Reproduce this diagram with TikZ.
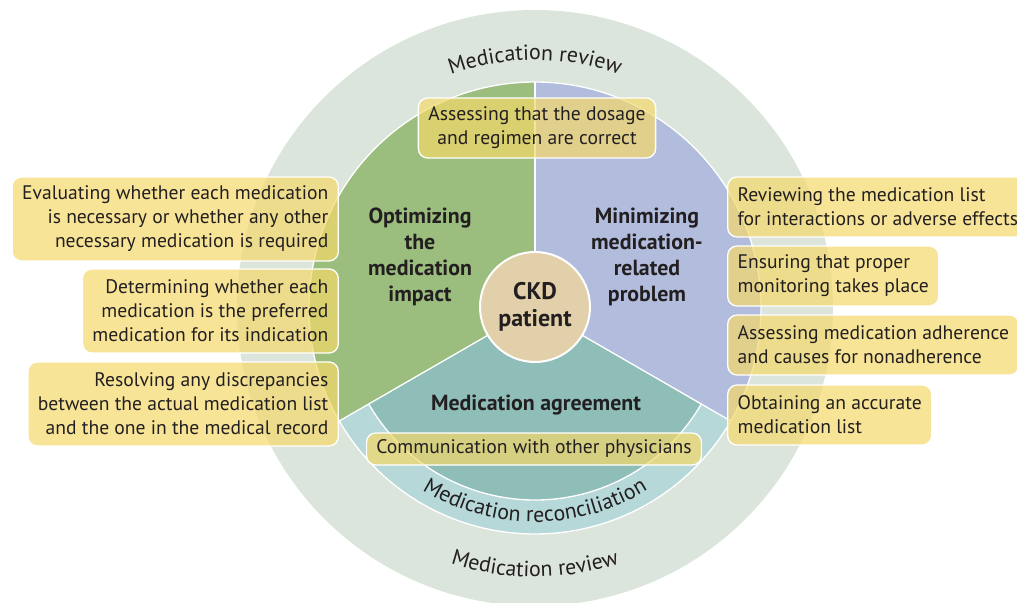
\documentclass[tikz,border=0pt]{standalone}
\usepackage{fontspec}
\setmainfont{PT Sans}
\usetikzlibrary{decorations.text}

\definecolor{reviewc}{HTML}{DCE5DC}
\definecolor{greenc}{HTML}{9BBD7E}
\definecolor{bluec}{HTML}{B2BDDE}
\definecolor{reconc}{HTML}{B6D8D8}
\definecolor{agreec}{HTML}{8FBEB9}
\definecolor{ckdc}{HTML}{E2D0AA}
\definecolor{boxc}{HTML}{F4D96A}
\definecolor{inkc}{HTML}{231F20}

\newcommand{\ringfont}{\fontsize{16.4}{18}\selectfont}

\begin{document}
\begin{tikzpicture}[x=0.75pt, y=0.75pt,
		edge/.style={draw=white, line width=1},
		infobox/.style={fill=boxc, fill opacity=0.7, text opacity=1, draw=white, line width=1,
			rounded corners=7, inner xsep=7.5, inner ysep=0, text=inkc,
			font=\fontsize{14.7}{18}\selectfont},
		leftbox/.style={infobox, align=right, anchor=east, minimum height=63},
		rightbox/.style={infobox, align=left, anchor=west, minimum height=45},
		sector/.style={align=center, text=inkc, font=\bfseries\fontsize{16.4}{19.5}\selectfont}]
		\useasboundingbox (-535,-295) rectangle (482,308);

		% Medication review ring
		\fill[reviewc] (0,0) circle[radius=298];

		% Three sectors
		\fill[greenc] (0,0) -- (90:226) arc[start angle=90, end angle=210, radius=226] -- cycle;
		\fill[bluec] (0,0) -- (-30:226) arc[start angle=-30, end angle=90, radius=226] -- cycle;
		\fill[reconc] (0,0) -- (210:226) arc[start angle=210, end angle=330, radius=226] -- cycle;
		\fill[agreec] (0,0) -- (210:192) arc[start angle=210, end angle=330, radius=192] -- cycle;

		\draw[edge] (0,0) circle[radius=226];
		\draw[edge] (210:192) arc[start angle=210, end angle=330, radius=192];
		\draw[edge] (0,0) -- (90:226);
		\draw[edge] (0,0) -- (210:226);
		\draw[edge] (0,0) -- (330:226);

		% Ring labels
		\path[decorate, decoration={text along path, text align=center,
			text={|\ringfont\color{inkc}|Medication review}}]
			(120:248) arc[start angle=120, end angle=60, radius=248];
		\path[decorate, decoration={text along path, text align=center,
			text={|\ringfont\color{inkc}|Medication review}}]
			(-130:269) arc[start angle=-130, end angle=-50, radius=269];
		\path[decorate, decoration={text along path, text align=center,
			text={|\ringfont\color{inkc}|Medication reconciliation}}]
			(-125:214) arc[start angle=-125, end angle=-55, radius=214];

		% Centre and sector titles
		\node[circle, fill=ckdc, draw=white, line width=1.5, minimum size=82.5, align=center,
			text=inkc, font=\bfseries\fontsize{18}{20}\selectfont] (ckd) at (0,1) {CKD\\patient};
		\node[sector] (optimizing) at (-115,51) {Optimizing\\the\\medication\\impact};
		\node[sector] (minimizing) at (112,51) {Minimizing\\medication-\\related\\problem};
		\node[sector] (agreement) at (1,-97) {Medication agreement};

		% Left boxes
		\node[leftbox] (evaluating) at (-196,89) {Evaluating whether each medication\\is necessary or whether any other\\necessary medication is required};
		\node[leftbox] (determining) at (-196,-3) {Determining whether each\\medication is the preferred\\medication for its indication};
		\node[leftbox] (resolving) at (-196,-96) {Resolving any discrepancies\\between the actual medication list\\and the one in the medical record};

		% Right boxes
		\node[rightbox] (reviewing) at (192,101) {Reviewing the medication list\\for interactions or adverse effects};
		\node[rightbox] (ensuring) at (192,32) {Ensuring that proper\\monitoring takes place};
		\node[rightbox] (adherence) at (192,-37) {Assessing medication adherence\\and causes for nonadherence};
		\node[rightbox] (obtaining) at (192,-107) {Obtaining an accurate\\medication list};

		% Top and bottom boxes
		\node[infobox, align=center, minimum height=45] (dosage) at (2,180) {Assessing that the dosage\\and regimen are correct};
		\node[infobox, minimum height=24] (communication) at (-1,-141) {Communication with other physicians};
	\end{tikzpicture}
\end{document}
